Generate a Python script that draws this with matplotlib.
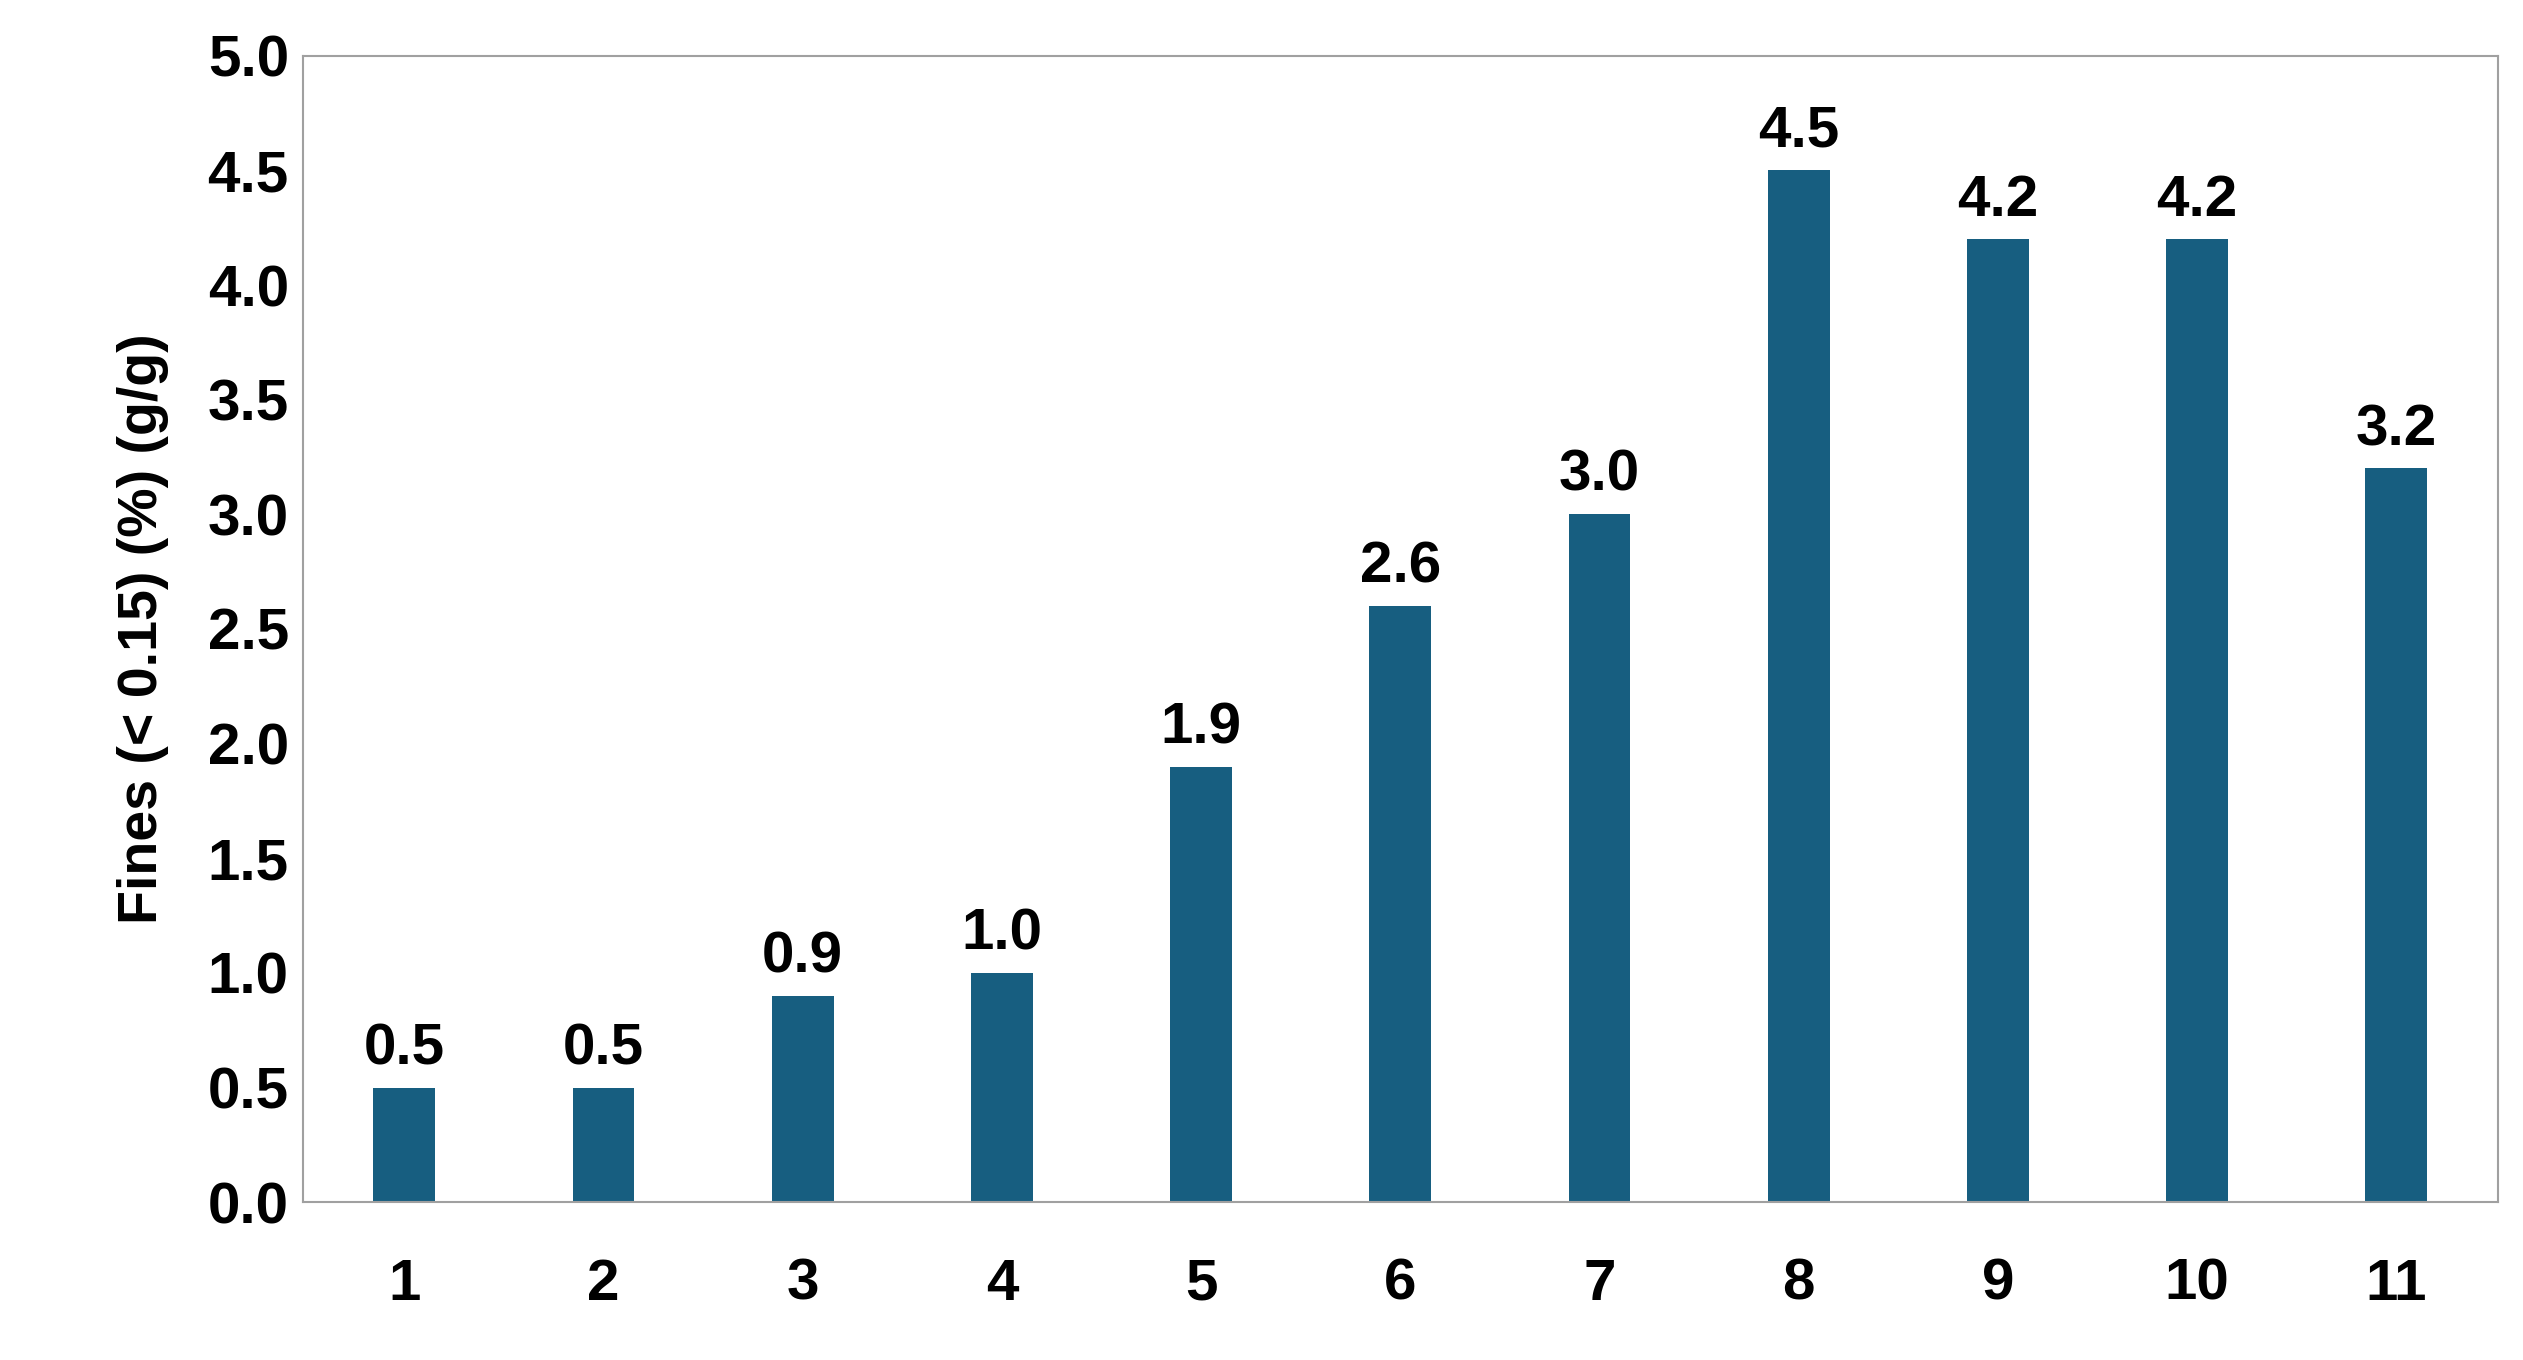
import matplotlib
matplotlib.use("Agg")
import matplotlib.pyplot as plt

categories = ["1","2","3","4","5","6","7","8","9","10","11"]
values = [0.5,0.5,0.9,1.0,1.9,2.6,3.0,4.5,4.2,4.2,3.2]
yticks = [0.0,0.5,1.0,1.5,2.0,2.5,3.0,3.5,4.0,4.5,5.0]

plt.rcParams['font.family'] = ['Liberation Sans', 'DejaVu Sans']
fig = plt.figure(figsize=(25.23,13.6), dpi=100)
ax = fig.add_axes([0.120,0.116,0.870,0.843])
x = list(range(1,len(categories)+1))
ax.bar(x, values, width=0.31, color="#175E80")
for xi, v in zip(x, values):
    ax.text(xi, v+0.05, f"{v:.1f}", ha="center", va="bottom", fontsize=42, fontweight="bold")
ax.set_xlim(0.49, 11.51)
ax.set_ylim(0, 5.0)
ax.set_yticks(yticks)
ax.set_yticklabels([f"{t:.1f}" for t in yticks], fontsize=42, fontweight="bold")
ax.set_xticks(x)
ax.set_xticklabels(categories, fontsize=42, fontweight="bold")
ax.tick_params(axis='both', length=0)
ax.tick_params(axis='x', pad=40)
ax.tick_params(axis='y', pad=10)
ax.set_ylabel("Fines (< 0.15) (%) (g/g)", fontsize=40, fontweight="bold", labelpad=28)
for s in ax.spines.values():
    s.set_color("#A0A0A0")
    s.set_linewidth(1.5)
fig.savefig("out.png", dpi=100)
